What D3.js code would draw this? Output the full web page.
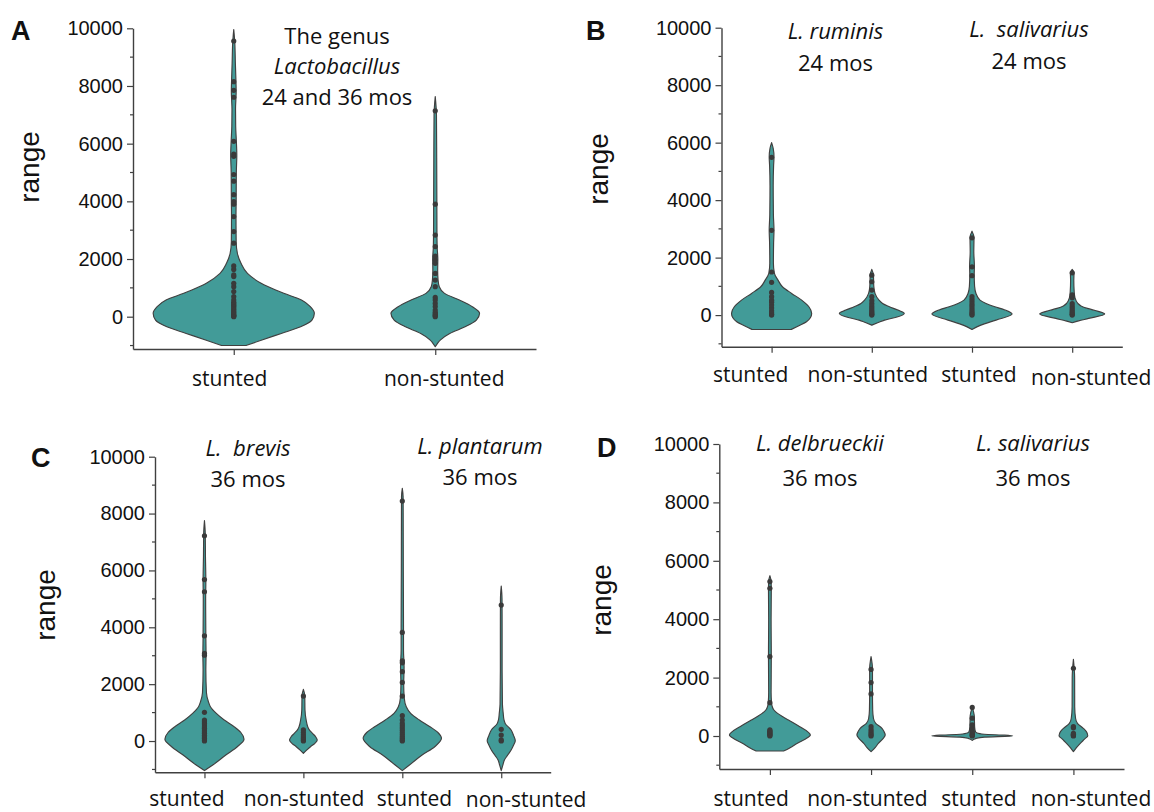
<!DOCTYPE html>
<html>
<head>
<meta charset="utf-8">
<script src="https://cdn.jsdelivr.net/npm/d3@7"></script>
<style>
  body { margin: 0; background: #fff; }
  text { white-space: pre; }
</style>
</head>
<body>
<div id="chart"></div>
<script>
"use strict";

// tick values shared by all four panels
const yTicks = [0, 2000, 4000, 6000, 8000, 10000];
const yMinorTicks = [-1000, 1000, 3000, 5000, 7000, 9000];

const groups2 = ["stunted", "non-stunted"];
const groups4 = ["stunted", "non-stunted", "stunted", "non-stunted"];

/* each violin is a list of [value, relative density],
   the dots are the individual values plotted on the centre line */

// A - the genus Lactobacillus, 24 and 36 mos
const aPoints = [
  [0, 20, 40, 60, 100, 150, 200, 250, 300, 350, 400, 450, 500, 580, 700, 870, 1040, 1160, 1390, 1450, 1640, 1760,
   2550, 2950, 3470, 3900, 3990, 4230, 4700, 4930, 5560, 5640, 6080, 7610, 7850, 8150, 9560],
  [0, 30, 60, 100, 150, 230, 350, 460, 580, 670, 1040, 1270, 1500, 1850, 1970, 2100, 2430, 2830, 3900, 7140]
];
const aViolins = [
  [[-1000, 0.15], [-810, 0.35], [-580, 0.59], [-350, 0.83], [-120, 0.97], [120, 1], [350, 0.95], [580, 0.84],
   [810, 0.62], [925, 0.52], [1160, 0.34], [1500, 0.17], [1850, 0.09], [2200, 0.045], [2600, 0.03], [3500, 0.028],
   [4000, 0.03], [5000, 0.032], [5600, 0.038], [6100, 0.032], [6600, 0.024], [7200, 0.022], [7800, 0.03],
   [8200, 0.027], [8800, 0.02], [9500, 0.013], [9960, 0]],
  [[-1040, 0], [-900, 0.035], [-810, 0.062], [-580, 0.18], [-350, 0.37], [-120, 0.51], [116, 0.55], [347, 0.46],
   [578, 0.3], [809, 0.115], [1040, 0.05], [1270, 0.035], [1600, 0.03], [2000, 0.032], [2400, 0.024],
   [3000, 0.021], [4000, 0.02], [5500, 0.018], [7000, 0.015], [7630, 0]]
];

// B - L. ruminis / L. salivarius, 24 mos
const bPoints = [
  [0, 30, 80, 150, 250, 350, 450, 520, 640, 790, 1140, 1500, 2950, 5490],
  [0, 30, 70, 120, 180, 250, 320, 400, 500, 640, 870, 1160, 1390],
  [0, 40, 90, 150, 220, 300, 380, 460, 550, 640, 1370, 1680, 2690],
  [0, 30, 70, 120, 180, 250, 320, 400, 600, 700, 1470]
];
const bViolins = [
  [[-500, 0.49], [-370, 0.68], [-232, 0.87], [58, 1], [290, 0.93], [522, 0.75], [754, 0.5], [986, 0.27],
   [1218, 0.16], [1450, 0.07], [1800, 0.045], [2500, 0.05], [2950, 0.06], [3500, 0.045], [4500, 0.04],
   [5200, 0.05], [5500, 0.06], [5800, 0.04], [6000, 0]],
  [[-350, 0], [-260, 0.16], [-174, 0.32], [-60, 0.65], [58, 0.81], [174, 0.65], [290, 0.44], [406, 0.27],
   [522, 0.18], [754, 0.08], [1000, 0.05], [1400, 0.04], [1590, 0]],
  [[-500, 0], [-350, 0.22], [-174, 0.6], [35, 1], [180, 0.82], [290, 0.57], [406, 0.35], [522, 0.2], [754, 0.1],
   [1000, 0.065], [1400, 0.055], [1700, 0.06], [2200, 0.045], [2700, 0.05], [2920, 0]],
  [[-267, 0], [-200, 0.16], [-116, 0.41], [35, 0.81], [130, 0.65], [232, 0.38], [320, 0.22], [406, 0.14],
   [600, 0.07], [800, 0.05], [1200, 0.04], [1470, 0.045], [1590, 0]]
];

// C - L. brevis / L. plantarum, 36 mos
const cPoints = [
  [0, 40, 100, 150, 200, 270, 330, 390, 450, 500, 560, 620, 680, 740, 1010, 3020, 3080, 3700, 5250, 5680, 7220],
  [0, 40, 90, 150, 220, 300, 390, 1580],
  [0, 40, 100, 160, 230, 300, 380, 460, 540, 620, 740, 890, 1580, 2060, 2440, 2750, 2820, 3820, 8440],
  [0, 40, 210, 410, 4780]
];
const cViolins = [
  [[-1040, 0], [-844, 0.21], [-492, 0.54], [-200, 0.83], [60, 1], [300, 0.92], [504, 0.75], [740, 0.5],
   [973, 0.3], [1207, 0.15], [1383, 0.1], [1700, 0.05], [2500, 0.035], [3000, 0.04], [3700, 0.035],
   [5000, 0.03], [5600, 0.035], [6500, 0.025], [7300, 0.02], [7750, 0]],
  [[-434, 0], [-330, 0.075], [-200, 0.18], [-80, 0.29], [35, 0.35], [150, 0.31], [270, 0.23], [390, 0.15],
   [504, 0.11], [740, 0.07], [1100, 0.04], [1600, 0.035], [1817, 0]],
  [[-1040, 0], [-844, 0.18], [-492, 0.5], [-200, 0.82], [94, 0.99], [300, 0.9], [504, 0.7], [740, 0.43],
   [973, 0.21], [1207, 0.1], [1500, 0.05], [2000, 0.035], [2600, 0.045], [3200, 0.03], [4000, 0.03],
   [6000, 0.025], [8000, 0.022], [8600, 0.02], [8886, 0]],
  [[-1043, 0], [-850, 0.04], [-668, 0.08], [-500, 0.16], [-316, 0.25], [-150, 0.31], [12, 0.355], [200, 0.31],
   [387, 0.25], [620, 0.1], [740, 0.07], [973, 0.05], [1300, 0.03], [2500, 0.022], [4000, 0.022],
   [5000, 0.02], [5450, 0]]
];

// D - L. delbrueckii / L. salivarius, 36 mos
const dPoints = [
  [0, 30, 60, 90, 120, 150, 180, 210, 1140, 2720, 5060, 5290],
  [0, 40, 90, 150, 220, 320, 1440, 1830, 2280],
  [0, 20, 50, 80, 120, 170, 260, 380, 610, 980],
  [0, 20, 40, 60, 90, 280, 320, 2320]
];
const dViolins = [
  [[-514, 0.34], [-400, 0.5], [-251, 0.68], [-100, 0.88], [34, 1], [150, 0.93], [320, 0.74], [548, 0.46],
   [662, 0.32], [776, 0.19], [890, 0.1], [1000, 0.06], [1150, 0.04], [1500, 0.03], [2700, 0.035],
   [4000, 0.03], [5000, 0.035], [5300, 0.03], [5490, 0]],
  [[-536, 0], [-400, 0.1], [-251, 0.18], [-100, 0.29], [34, 0.35], [150, 0.32], [263, 0.27], [434, 0.115],
   [600, 0.06], [900, 0.04], [1500, 0.035], [2300, 0.035], [2717, 0]],
  [[-150, 0], [-80, 0.1], [-40, 0.3], [0, 1], [30, 0.8], [60, 0.3], [100, 0.12], [150, 0.08], [300, 0.06],
   [700, 0.05], [982, 0]],
  [[-536, 0], [-400, 0.075], [-251, 0.17], [-100, 0.28], [11, 0.355], [150, 0.32], [263, 0.245], [434, 0.1],
   [600, 0.054], [1000, 0.032], [2000, 0.03], [2625, 0]]
];

const FILL = "#429b98";
const INK = "#404040";
const SANS = "'Liberation Sans', Arial, sans-serif";
const LABEL_FONT = "'Open Sans', 'Noto Sans', sans-serif";

const svg = d3.select("#chart")
  .append("svg")
  .attr("width", 1154)
  .attr("height", 812);

const panels = [
  {
    letter: "A", letterPos: [11, 40], rangePos: [39, 167],
    x0: 133, x1: 536, yTop: 28.3, yBot: 349, yMin: -1120,
    groups: groups2, points: aPoints, violins: aViolins,
    labelDx: [-4, 9], labelY: [386, 386],
    notes: [
      { x: 337, lines: [["The genus", false, 43.5], ["Lactobacillus", true, 74], ["24 and 36 mos", false, 105]] }
    ]
  },
  {
    letter: "B", letterPos: [586, 40], rangePos: [608, 169],
    x0: 721.5, x1: 1122.3, yTop: 27.7, yBot: 346.7, yMin: -1100,
    groups: groups4, points: bPoints, violins: bViolins,
    labelDx: [-21, -4, 7, 19], labelY: [381.5, 381.5, 381.5, 385],
    notes: [
      { x: 835.5, lines: [["L. ruminis", true, 39.3], ["24 mos", false, 70.7]] },
      { x: 1029, lines: [["L.  salivarius", true, 37.3], ["24 mos", false, 69.3]] }
    ]
  },
  {
    letter: "C", letterPos: [31, 467], rangePos: [55, 605],
    x0: 155, x1: 550.7, yTop: 456.7, yBot: 772.3, yMin: -1100,
    groups: groups4, points: cPoints, violins: cViolins,
    labelDx: [-17.5, 0.6, 12.2, 24.8], labelY: [805.5, 805.5, 805.5, 806.5],
    notes: [
      { x: 248, lines: [["L.  brevis", true, 456], ["36 mos", false, 486.7]] },
      { x: 480, lines: [["L. plantarum", true, 454], ["36 mos", false, 485]] }
    ]
  },
  {
    letter: "D", letterPos: [597, 457], rangePos: [611, 600],
    x0: 719.3, x1: 1124, yTop: 444, yBot: 769, yMin: -1130,
    groups: groups4, points: dPoints, violins: dViolins,
    labelDx: [-18.7, -3.6, 6.7, 17.6], labelY: [806, 806, 806, 806],
    notes: [
      { x: 820, lines: [["L. delbrueckii", true, 450.7], ["36 mos", false, 485.7]] },
      { x: 1033, lines: [["L. salivarius", true, 450.7], ["36 mos", false, 485.7]] }
    ]
  }
];

panels.forEach(drawPanel);

function drawPanel(p) {
  const g = svg.append("g");

  const x = d3.scalePoint()
    .domain(d3.range(p.groups.length))
    .range([p.x0, p.x1])
    .padding(0.5);

  const y = d3.scaleLinear()
    .domain([p.yMin, 10000])
    .range([p.yBot, p.yTop]);

  // widest violin fills 80% of a category step
  const w = d3.scaleLinear()
    .domain([0, 1])
    .range([0, x.step() * 0.4]);

  // violins
  p.violins.forEach(function (prof, i) {
    const cx = x(i);
    const area = d3.area()
      .y(d => y(d[0]))
      .x0(d => cx - w(d[1]))
      .x1(d => cx + w(d[1]))
      .curve(d3.curveMonotoneY);
    g.append("path")
      .attr("d", area(prof))
      .attr("fill", FILL)
      .attr("stroke", INK)
      .attr("stroke-width", 1.15)
      .attr("stroke-linejoin", "round");
  });

  // dots on the centre line
  p.points.forEach(function (vals, i) {
    g.selectAll(null)
      .data(vals)
      .enter()
      .append("circle")
      .attr("cx", x(i))
      .attr("cy", d => y(d))
      .attr("r", 2.6)
      .attr("fill", "#3a3a3a");
  });

  // y axis
  const yAxis = d3.axisLeft(y)
    .tickValues(yTicks)
    .tickFormat(d3.format("d"))
    .tickSize(6)
    .tickSizeOuter(0)
    .tickPadding(4);
  const gy = g.append("g")
    .attr("transform", `translate(${p.x0},0)`)
    .call(yAxis);
  gy.select(".domain").attr("stroke", INK).attr("stroke-width", 1.4);
  gy.selectAll(".tick line").attr("stroke", INK).attr("stroke-width", 1.2);
  gy.selectAll(".tick text")
    .attr("fill", "#111")
    .style("font-family", SANS)
    .style("font-size", "20px");

  gy.selectAll(".minor")
    .data(yMinorTicks)
    .enter()
    .append("line")
    .attr("class", "minor")
    .attr("x1", -3)
    .attr("x2", 0)
    .attr("y1", d => y(d))
    .attr("y2", d => y(d))
    .attr("stroke", INK)
    .attr("stroke-width", 1.2);

  // x axis, labels placed by hand below
  const xAxis = d3.axisBottom(x)
    .tickSize(6)
    .tickSizeOuter(0)
    .tickFormat("");
  const gx = g.append("g")
    .attr("transform", `translate(0,${p.yBot})`)
    .call(xAxis);
  gx.select(".domain").attr("stroke", INK).attr("stroke-width", 1.4);
  gx.selectAll(".tick line").attr("stroke", INK).attr("stroke-width", 1.2);

  g.selectAll(".cat")
    .data(p.groups)
    .enter()
    .append("text")
    .attr("class", "cat")
    .attr("x", (d, i) => x(i) + p.labelDx[i])
    .attr("y", (d, i) => p.labelY[i])
    .attr("text-anchor", "middle")
    .style("font-family", LABEL_FONT)
    .style("font-size", "21px")
    .attr("fill", "#111")
    .text(d => d);

  // y label
  g.append("text")
    .attr("transform", `translate(${p.rangePos[0]},${p.rangePos[1]}) rotate(-90)`)
    .attr("text-anchor", "middle")
    .style("font-family", SANS)
    .style("font-size", "28px")
    .attr("fill", "#111")
    .text("range");

  // panel letter
  g.append("text")
    .attr("x", p.letterPos[0])
    .attr("y", p.letterPos[1])
    .style("font-family", SANS)
    .style("font-weight", "bold")
    .style("font-size", "27px")
    .attr("fill", "#111")
    .text(p.letter);

  // species notes
  p.notes.forEach(function (note) {
    note.lines.forEach(function (ln) {
      g.append("text")
        .attr("x", note.x)
        .attr("y", ln[2])
        .attr("text-anchor", "middle")
        .style("font-family", LABEL_FONT)
        .style("font-size", "22px")
        .style("font-style", ln[1] ? "italic" : "normal")
        .attr("fill", "#111")
        .text(ln[0]);
    });
  });
}
</script>
</body>
</html>
